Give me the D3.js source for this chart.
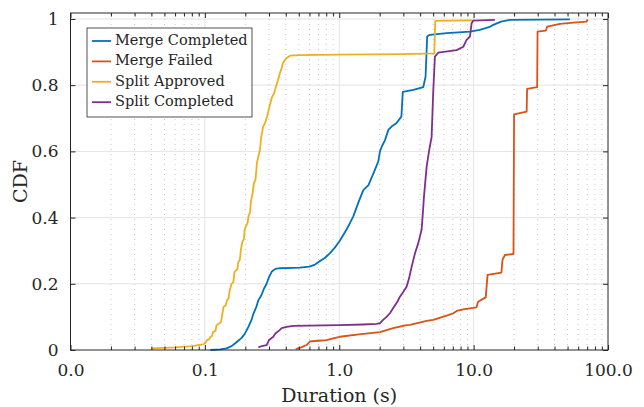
<!DOCTYPE html>
<html><head><meta charset="utf-8">
<script src="https://cdn.jsdelivr.net/npm/d3@7"></script>
<style>
body{margin:0;background:#fff}
svg{display:block}
</style>
</head><body><svg id="c" width="644" height="407"></svg>
<script>
// ---------- data ----------
const seriesNames = ["Merge Completed", "Merge Failed", "Split Approved", "Split Completed"];
const seriesColors = ["#0072BD", "#D95319", "#EDB120", "#7E2F8E"];

// [duration (s), CDF]
const mergeCompleted = [[0.110,0.000],[0.130,0.002],[0.145,0.005],[0.155,0.010],[0.162,0.015],[0.170,0.022],[0.177,0.028],[0.187,0.036],[0.195,0.045],[0.205,0.060],[0.212,0.072],[0.222,0.090],[0.230,0.110],[0.242,0.131],[0.250,0.150],[0.264,0.166],[0.275,0.185],[0.288,0.200],[0.300,0.220],[0.315,0.237],[0.335,0.245],[0.362,0.247],[0.45,0.248],[0.51,0.249],[0.60,0.252],[0.66,0.258],[0.71,0.267],[0.78,0.278],[0.85,0.292],[0.93,0.310],[1.01,0.330],[1.13,0.363],[1.20,0.383],[1.27,0.403],[1.38,0.443],[1.51,0.483],[1.65,0.498],[1.80,0.534],[1.95,0.569],[2.01,0.600],[2.07,0.614],[2.19,0.634],[2.32,0.665],[2.45,0.675],[2.66,0.685],[2.90,0.705],[2.97,0.780],[3.56,0.786],[4.22,0.794],[4.39,0.826],[4.51,0.947],[4.73,0.952],[6.30,0.957],[9.39,0.962],[11.1,0.967],[13.0,0.975],[14.0,0.982],[16.0,0.992],[18.6,0.997],[52.0,0.999]];

const mergeFailed = [[0.474,0.003],[0.52,0.008],[0.571,0.015],[0.605,0.026],[0.70,0.028],[0.805,0.030],[0.90,0.035],[1.01,0.040],[1.4,0.047],[2.01,0.054],[2.52,0.066],[3.17,0.075],[3.36,0.076],[4.47,0.088],[5.0,0.091],[6.30,0.104],[7.05,0.111],[7.48,0.118],[8.37,0.123],[9.93,0.127],[10.5,0.129],[10.8,0.146],[12.3,0.159],[12.7,0.227],[16.1,0.234],[16.4,0.272],[17.1,0.287],[19.8,0.290],[20.0,0.712],[24.8,0.720],[25.0,0.789],[29.7,0.794],[29.9,0.962],[34.5,0.965],[35.3,0.977],[43.9,0.985],[55.1,0.989],[69.3,0.992],[70.5,0.999]];

const splitApproved = [[0.040,0.005],[0.060,0.008],[0.080,0.012],[0.097,0.017],[0.101,0.022],[0.104,0.030],[0.108,0.033],[0.110,0.040],[0.113,0.042],[0.115,0.055],[0.120,0.058],[0.122,0.075],[0.128,0.080],[0.132,0.085],[0.135,0.110],[0.138,0.131],[0.143,0.135],[0.146,0.150],[0.150,0.155],[0.153,0.180],[0.158,0.200],[0.163,0.205],[0.166,0.235],[0.170,0.240],[0.175,0.245],[0.177,0.265],[0.182,0.272],[0.185,0.300],[0.190,0.327],[0.195,0.335],[0.198,0.365],[0.203,0.375],[0.208,0.385],[0.212,0.408],[0.217,0.415],[0.220,0.450],[0.226,0.470],[0.232,0.505],[0.238,0.515],[0.244,0.565],[0.250,0.585],[0.257,0.604],[0.262,0.640],[0.271,0.674],[0.280,0.685],[0.290,0.704],[0.300,0.730],[0.316,0.764],[0.327,0.775],[0.338,0.795],[0.350,0.815],[0.362,0.837],[0.372,0.850],[0.381,0.867],[0.40,0.880],[0.43,0.889],[0.50,0.891],[1.0,0.892],[3.0,0.894],[5.10,0.896],[5.18,0.994],[7.0,0.995],[10.0,0.996]];

const splitCompleted = [[0.250,0.008],[0.265,0.012],[0.288,0.015],[0.300,0.030],[0.323,0.040],[0.335,0.050],[0.360,0.060],[0.373,0.066],[0.406,0.070],[0.455,0.073],[1.01,0.075],[1.50,0.077],[1.90,0.079],[2.01,0.081],[2.12,0.091],[2.25,0.100],[2.38,0.111],[2.55,0.130],[2.70,0.145],[2.83,0.161],[3.0,0.176],[3.17,0.191],[3.30,0.215],[3.46,0.252],[3.66,0.292],[3.87,0.322],[4.10,0.363],[4.20,0.420],[4.27,0.463],[4.47,0.554],[4.67,0.604],[4.87,0.644],[5.0,0.776],[5.15,0.886],[5.45,0.898],[7.48,0.906],[8.37,0.916],[8.87,0.937],[9.39,0.947],[9.66,0.987],[9.93,0.995],[14.4,0.997]];

const xTickValues = [0.01, 0.1, 1, 10, 100];
const xTickLabels = ["0.0", "0.1", "1.0", "10.0", "100.0"];
const yTickValues = [0, 0.2, 0.4, 0.6, 0.8, 1];
const yTickLabels = ["0", "0.2", "0.4", "0.6", "0.8", "1"];
const xLabel = "Duration (s)";
const yLabel = "CDF";

// ---------- chart ----------
const FONT = "'DejaVu Serif', 'Liberation Serif', serif";
const allSeries = [mergeCompleted, mergeFailed, splitApproved, splitCompleted];
const L = 70.5, R = 608, T = 13, B = 350;
const svg = d3.select("#c");
const x = d3.scaleLog().domain([0.01, 100]).range([L, R]);
const y = d3.scaleLinear().domain([0, 1.018]).range([B, T]);

const minorX = [];
for (let d = -2; d < 2; d++) for (let k = 2; k <= 9; k++) minorX.push(k * Math.pow(10, d));

const grid = svg.append("g");
grid.selectAll(".mnx").data(minorX).join("line")
  .attr("x1", d => x(d)).attr("x2", d => x(d)).attr("y1", B).attr("y2", T)
  .attr("stroke", "#c4c4c4").attr("stroke-width", 1).attr("stroke-dasharray", "1,4");
grid.selectAll(".mjx").data(xTickValues.slice(1, -1)).join("line")
  .attr("x1", d => x(d)).attr("x2", d => x(d)).attr("y1", B).attr("y2", T)
  .attr("stroke", "#e3e3e3").attr("stroke-width", 1);
grid.selectAll(".mjy").data(yTickValues.slice(1)).join("line")
  .attr("x1", L).attr("x2", R).attr("y1", d => y(d)).attr("y2", d => y(d))
  .attr("stroke", "#e3e3e3").attr("stroke-width", 1);

// series
const line = d3.line().x(d => x(d[0])).y(d => y(d[1]));
allSeries.forEach((s, i) => {
  svg.append("path").datum(s).attr("d", line)
    .attr("fill", "none").attr("stroke", seriesColors[i])
    .attr("stroke-width", 1.8).attr("stroke-linejoin", "round");
});

// axes
const axisColor = "#262626";
const ax = svg.append("g");
const axB = d3.axisBottom(x).tickValues(xTickValues).tickFormat((d, i) => xTickLabels[i]).tickSizeInner(-5).tickSizeOuter(0).tickPadding(14);
const gB = ax.append("g").attr("transform", `translate(0,${B})`).call(axB);
gB.select(".domain").remove();
gB.selectAll("line").attr("stroke", axisColor);
gB.attr("font-family", FONT);
gB.selectAll("text").attr("font-size", 17).attr("fill", axisColor);
const axBm = d3.axisBottom(x).tickValues(minorX).tickFormat("").tickSizeInner(-3.5).tickSizeOuter(0);
const gBm = ax.append("g").attr("transform", `translate(0,${B})`).call(axBm);
gBm.select(".domain").remove();
gBm.selectAll("line").attr("stroke", axisColor);
const axT = d3.axisTop(x).tickValues(xTickValues).tickFormat("").tickSizeInner(-5).tickSizeOuter(0);
const gT = ax.append("g").attr("transform", `translate(0,${T})`).call(axT);
gT.select(".domain").remove(); gT.selectAll("line").attr("stroke", axisColor);
const axTm = d3.axisTop(x).tickValues(minorX).tickFormat("").tickSizeInner(-3.5).tickSizeOuter(0);
const gTm = ax.append("g").attr("transform", `translate(0,${T})`).call(axTm);
gTm.select(".domain").remove(); gTm.selectAll("line").attr("stroke", axisColor);
const axL = d3.axisLeft(y).tickValues(yTickValues).tickFormat((d, i) => yTickLabels[i]).tickSizeInner(-5).tickSizeOuter(0).tickPadding(12);
const gL = ax.append("g").attr("transform", `translate(${L},0)`).call(axL);
gL.select(".domain").remove();
gL.selectAll("line").attr("stroke", axisColor);
gL.attr("font-family", FONT);
gL.selectAll("text").attr("font-size", 17).attr("fill", axisColor);
const axR = d3.axisRight(y).tickValues(yTickValues).tickFormat("").tickSizeInner(-5).tickSizeOuter(0);
const gR = ax.append("g").attr("transform", `translate(${R},0)`).call(axR);
gR.select(".domain").remove(); gR.selectAll("line").attr("stroke", axisColor);
ax.append("rect").attr("x", L).attr("y", T).attr("width", R - L).attr("height", B - T)
  .attr("fill", "none").attr("stroke", axisColor).attr("stroke-width", 1);

// labels
svg.append("text").attr("x", (L + R) / 2).attr("y", 397).attr("text-anchor", "middle")
  .attr("dominant-baseline", "middle").attr("font-family", FONT).attr("font-size", 19)
  .attr("fill", axisColor).text(xLabel);
svg.append("text").attr("transform", `translate(22,${(T + B) / 2}) rotate(-90)`).attr("text-anchor", "middle")
  .attr("dominant-baseline", "middle").attr("font-family", FONT).attr("font-size", 19)
  .attr("fill", axisColor).text(yLabel);

// legend
const lg = svg.append("g");
lg.append("rect").attr("x", 87).attr("y", 28).attr("width", 165).attr("height", 89)
  .attr("fill", "#fff").attr("stroke", axisColor).attr("stroke-width", 0.8);
seriesNames.forEach((n, i) => {
  const yy = 41 + i * 20.4;
  lg.append("line").attr("x1", 92).attr("x2", 111).attr("y1", yy).attr("y2", yy)
    .attr("stroke", seriesColors[i]).attr("stroke-width", 1.8);
  lg.append("text").attr("x", 115).attr("y", yy).attr("dominant-baseline", "middle")
    .attr("font-family", FONT).attr("font-size", 14.5).attr("fill", axisColor).text(n);
});
</script>
</body></html>
